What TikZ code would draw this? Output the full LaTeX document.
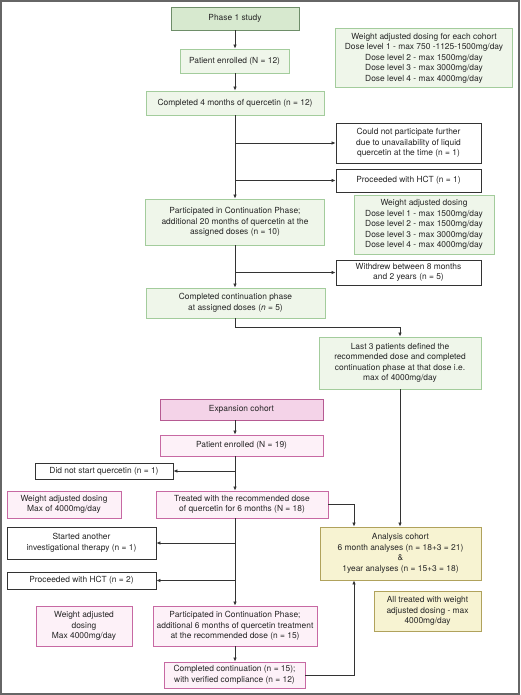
\documentclass[tikz,border=0pt]{standalone}
\usepackage{fontspec}
\setmainfont{TeX Gyre Heros}
\usetikzlibrary{arrows.meta}
\definecolor{gfill}{HTML}{EFF6EA}
\definecolor{gdraw}{HTML}{A3CC9C}
\definecolor{gdfill}{HTML}{D7E9CF}
\definecolor{gddraw}{HTML}{6E8E69}
\definecolor{pfill}{HTML}{FDF1F8}
\definecolor{pdraw}{HTML}{C769A3}
\definecolor{pdfill}{HTML}{F4D3E8}
\definecolor{pddraw}{HTML}{B65A92}
\definecolor{yfill}{HTML}{F7F3D2}
\definecolor{ydraw}{HTML}{B0A25C}
\definecolor{linec}{HTML}{333333}
\definecolor{framec}{HTML}{666666}
\begin{document}
\begin{tikzpicture}[x=1pt,y=-1pt,
  every node/.style={font=\fontsize{8.4}{10.5}\selectfont, text=black!85},
  basebox/.style={rectangle, inner sep=0pt, align=center, line width=0.9pt},
  gbox/.style={basebox, fill=gfill, draw=gdraw},
  gdbox/.style={basebox, fill=gdfill, draw=gddraw},
  pbox/.style={basebox, fill=pfill, draw=pdraw},
  pdbox/.style={basebox, fill=pdfill, draw=pddraw},
  ybox/.style={basebox, fill=yfill, draw=ydraw},
  wbox/.style={basebox, fill=white, draw=linec},
  sz/.style 2 args={minimum width=#1pt, minimum height=#2pt},
  arr/.style={draw=linec, line width=0.8pt, -{Latex[length=4pt,width=3.6pt]}},
  ln/.style={draw=linec, line width=0.8pt}
]
\useasboundingbox (0,0) rectangle (520,695);
\fill[white] (0,0) rectangle (520,695);
\draw[framec, line width=1.6pt] (0.8,0.8) rectangle (519.2,694.2);

% Phase 1
\node[gdbox, sz={128}{23}] (phase1) at (235,18.5) {Phase 1 study};
\node[gbox, sz={177}{59}] (wad1) at (424,58) {Weight adjusted dosing for each cohort\\Dose level 1 - max 750 -1125-1500mg/day\\Dose level 2 - max 1500mg/day\\Dose level 3 - max 3000mg/day\\Dose level 4 - max 4000mg/day};
\node[gbox, sz={109}{24}] (pe12) at (234.5,61) {Patient enrolled (N = 12)};
\node[gbox, sz={178}{24}] (c4m) at (235,103) {Completed 4 months of quercetin (n = 12)};
\node[wbox, sz={145}{40}] (cnp) at (408.5,143) {Could not participate further\\due to unavailability of liquid\\quercetin at the time (n = 1)};
\node[wbox, sz={145}{23}] (hct1) at (408.5,180.5) {Proceeded with HCT (n = 1)};
\node[gbox, sz={140}{59}] (wad2) at (424,224.5) {Weight adjusted dosing\\Dose level 1 - max 1500mg/day\\Dose level 2 - max 1500mg/day\\Dose level 3 - max 3000mg/day\\Dose level 4 - max 4000mg/day};
\node[gbox, sz={179}{46}] (part1) at (235,222) {Participated in Continuation Phase;\\additional 20 months of quercetin at the\\assigned doses (n = 10)};
\node[wbox, sz={145}{25}] (wd) at (408.5,272.5) {Withdrew between 8 months\\and 2 years (n = 5)};
\node[gbox, sz={179}{30}] (ccp) at (235.5,303) {Completed continuation phase\\at assigned doses (\textit{n} = 5)};
\node[gbox, sz={162}{52}] (last3) at (400,363) {Last 3 patients defined the\\recommended dose and completed\\continuation phase at that dose i.e.\\max of 4000mg/day};

% Expansion
\node[pdbox, sz={163}{21}] (exp) at (241.5,409.5) {Expansion cohort};
\node[pbox, sz={163}{21}] (pe19) at (241.5,445.5) {Patient enrolled (N = 19)};
\node[wbox, sz={138}{16}] (dns) at (104,471) {Did not start quercetin (n = 1)};
\node[pbox, sz={114}{27}] (wadp1) at (64,504.5) {Weight adjusted dosing\\Max of 4000mg/day};
\node[pbox, sz={172}{27}] (treat) at (242,504.5) {Treated with the recommended dose\\of quercetin for 6 months (N = 18)};
\node[wbox, sz={149}{32}] (sai) at (81.5,543) {Started another\\investigational therapy (n = 1)};
\node[ybox, sz={161}{53}] (ac) at (400.5,553.5) {Analysis cohort\\6 month analyses (n = 18+3 = 21)\\\&\\1year analyses (n = 15+3 = 18)};
\node[wbox, sz={149}{17}] (hct2) at (81.5,580.5) {Proceeded with HCT (n = 2)};
\node[ybox, sz={107}{40}] (atw) at (427.5,611) {All treated with weight\\adjusted dosing - max\\4000mg/day};
\node[pbox, sz={96}{40}] (wadp2) at (84,626) {Weight adjusted\\dosing\\Max 4000mg/day};
\node[pbox, sz={164}{40}] (part2) at (235,626) {Participated in Continuation Phase;\\additional 6 months of quercetin treatment\\at the recommended dose (n = 15)};
\node[pbox, sz={141}{26}] (cc) at (234.5,675) {Completed continuation (n = 15);\\with verified compliance (n = 12)};

% spine coordinates
\coordinate (sp) at (235,0);
\coordinate (ax) at (354,0);
\coordinate (jn1) at (235,327);
\coordinate (jn2) at (400,327);

% Phase 1 connectors
\draw[arr] (phase1.south -| sp) -- (pe12.north -| sp);
\draw[arr] (pe12.south -| sp) -- (c4m.north -| sp);
\draw[arr] (c4m.south -| sp) -- (part1.north -| sp);
\draw[arr] (cnp.west -| sp) -- (cnp.west);
\draw[arr] (hct1.west -| sp) -- (hct1.west);
\draw[arr] (part1.south -| sp) -- (ccp.north -| sp);
\draw[arr] (wd.west -| sp) -- (wd.west);
\draw[arr] (ccp.south -| sp) -- (jn1) -- (jn2) -- (last3.north);
\draw[arr] (last3.south) -- (ac.north -| last3.south);

% Expansion connectors
\draw[arr] (exp.south -| sp) -- (pe19.north -| sp);
\draw[arr] (pe19.south -| sp) -- (treat.north -| sp);
\draw[arr] (dns.east -| sp) -- (dns.east);
\draw[arr] (treat.south -| sp) -- (part2.north -| sp);
\draw[arr] (sai.east -| sp) -- (sai.east);
\draw[arr] (hct2.east -| sp) -- (hct2.east);
\draw[arr] (part2.south -| sp) -- (cc.north -| sp);
\draw[arr] (treat.east) -- (treat.east -| ax) -- (ac.north -| ax);
\draw[arr] (cc.east) -- (cc.east -| ax) -- (ac.south -| ax);
\end{tikzpicture}
\end{document}
